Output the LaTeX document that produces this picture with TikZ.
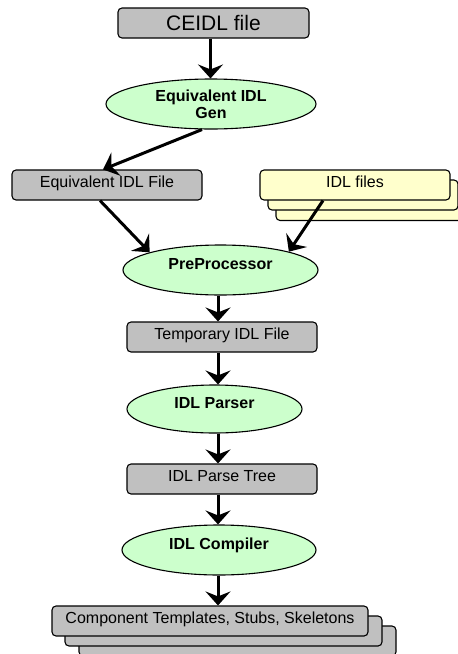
\documentclass[tikz,border=0pt]{standalone}
\usepackage{fontspec}
\setmainfont{Liberation Sans}
\usetikzlibrary{shapes.geometric,arrows.meta,calc}
\definecolor{boxgray}{HTML}{C0C0C0}
\definecolor{procgreen}{HTML}{CCFFCC}
\definecolor{fileyellow}{HTML}{FFFFCC}
\begin{document}
\begin{tikzpicture}[x=1pt,y=-1pt,
  filebox/.style={draw, line width=1.1pt, rounded corners=4pt, fill=boxgray,
    minimum height=30pt, inner sep=0pt, font=\fontsize{16}{18}\selectfont,
    text height=11.5pt, text depth=7.5pt},
  procbase/.style={ellipse, draw, line width=1.1pt, fill=procgreen, inner sep=0pt,
    font=\bfseries\fontsize{16}{16.7}\selectfont},
  proc/.style={procbase, text height=11.5pt, text depth=13pt},
  flow/.style={line width=3pt, -{Stealth[length=14pt,width=25pt,inset=5pt]}}]
\useasboundingbox (0,0) rectangle (458,654);
\clip (0,0) rectangle (458,654);
\coordinate (axisA) at (210.5,0);
\coordinate (axisB) at (218,0);

% top file
\node[filebox, minimum width=191pt, font=\fontsize{21}{24}\selectfont,
  text height=15pt, text depth=0pt] (ceidl) at (213.5,23) {CEIDL file};

% equivalent IDL gen
\node[procbase, minimum width=210pt, minimum height=50pt, align=center]
  (gen) at (211,104) {Equivalent IDL\\Gen};

% equivalent IDL file
\node[filebox, minimum width=190pt] (eqf) at (107,185) {Equivalent IDL File};

% IDL files stack
\node[filebox, fill=fileyellow, minimum width=190pt] (idlC) at (371,205.5) {};
\node[filebox, fill=fileyellow, minimum width=190pt] (idlB) at (363,195) {};
\node[filebox, fill=fileyellow, minimum width=190pt] (idl) at (355,185) {IDL files};

% preprocessor
\node[proc, minimum width=195pt, minimum height=50pt] (pre) at (220.5,270) {PreProcessor};

% temporary file
\node[filebox, minimum width=190pt] (temp) at (222,337) {Temporary IDL File};

% parser
\node[proc, minimum width=175pt, minimum height=48pt] (parser) at (214.5,409) {IDL Parser};

% parse tree
\node[filebox, minimum width=190pt] (tree) at (222,479) {IDL Parse Tree};

% compiler
\node[proc, minimum width=194pt, minimum height=50pt] (comp) at (219,550) {IDL Compiler};

% output stack
\node[filebox, minimum width=317pt] (outC) at (237.5,641) {};
\node[filebox, minimum width=317pt] (outB) at (223.5,631) {};
\node[filebox, minimum width=316pt] (out) at (210,621) {Component Templates, Stubs, Skeletons};

% connectors
\draw[flow] (ceidl.south -| axisA) -- (gen.north -| axisA);
\draw[flow] ($(gen.south)+(-9,0)$) -- ($(eqf.north)+(-4,0)$);
\draw[flow] ($(eqf.south)+(-7,0)$) -- (pre.166);
\draw[flow] ($(idl.south)+(-32,0)$) -- (pre.15);
\draw[flow] (pre.south -| axisB) -- (temp.north -| axisB);
\draw[flow] (temp.south -| axisB) -- (parser.north -| axisB);
\draw[flow] (parser.south -| axisB) -- (tree.north -| axisB);
\draw[flow] (tree.south -| axisB) -- (comp.north -| axisB);
\draw[flow] (comp.south -| axisB) -- (out.north -| axisB);
\end{tikzpicture}
\end{document}
